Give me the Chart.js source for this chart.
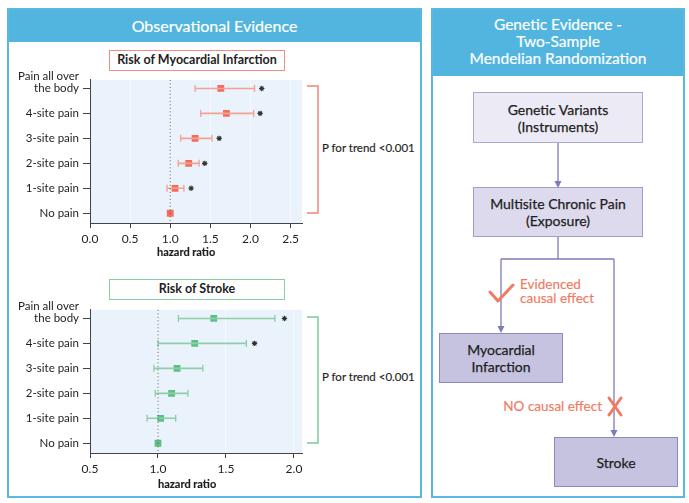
<!DOCTYPE html>
<html>
<head>
<meta charset="utf-8">
<script src="https://cdn.jsdelivr.net/npm/chart.js@4.4.1/dist/chart.umd.min.js"></script>
<style>
  body { margin: 0; width: 689px; height: 503px; position: relative; overflow: hidden;
         background: #fff; font-family: Lato, "Noto Sans", sans-serif; color: #1e1e1e; }
  .panel { position: absolute; border: 2px solid #5bb8e0; box-sizing: border-box; }
  .head { position: absolute; left: 0; right: 0; top: 0; background: #52b5e0; color: #fff;
          text-align: center; font-size: 16px; -webkit-text-stroke: 0.2px #fff; }
  .t { position: absolute; white-space: nowrap; -webkit-text-stroke: 0.15px currentColor; }
  .titlebox { position: absolute; box-sizing: border-box; height: 21px; width: 176px; left: 109px;
              text-align: center; font-weight: bold; font-size: 12.5px; line-height: 18px; background: #fff; }
  .box { position: absolute; box-sizing: border-box; display: flex; align-items: center;
         justify-content: center; text-align: center; font-size: 14px; line-height: 17px; color: #1e1e1e;
         -webkit-text-stroke: 0.25px #1e1e1e; }
  canvas { position: absolute; }
  svg { position: absolute; left: 0; top: 0; }
</style>
</head>
<body>

<div class="panel" style="left:7px;top:8px;width:415px;height:490px;">
  <div class="head" style="height:32px;line-height:31px;">Observational Evidence</div>
</div>
<div class="panel" style="left:431px;top:8px;width:254px;height:490px;">
  <div class="head" style="height:66px;font-size:15.5px;line-height:17px;padding-top:6px;box-sizing:border-box;">Genetic Evidence -<br>Two-Sample<br>Mendelian Randomization</div>
</div>

<div class="titlebox" style="top:50px;border:1.5px solid #ef8f7f;">Risk of Myocardial Infarction</div>
<div class="titlebox" style="top:279px;border:1.5px solid #86cfa0;">Risk of Stroke</div>

<canvas id="miChart" width="310" height="195" style="left:0;top:70px;"></canvas>
<canvas id="strokeChart" width="310" height="195" style="left:0;top:300px;"></canvas>

<div class="t" style="left:157px;top:245px;font-size:11px;font-weight:bold;">hazard ratio</div>
<div class="t" style="left:158px;top:477px;font-size:11px;font-weight:bold;">hazard ratio</div>

<div class="t" style="left:322px;top:141px;font-size:11.5px;">P for trend &lt;0.001</div>
<div class="t" style="left:322px;top:370px;font-size:11.5px;">P for trend &lt;0.001</div>

<div class="box" style="left:473px;top:92px;width:170px;height:51px;background:#ecebf5;border:1.5px solid #aaa7d0;">Genetic Variants<br>(Instruments)</div>
<div class="box" style="left:473px;top:187px;width:170px;height:50px;background:#dcdaec;border:1.5px solid #a09dcc;">Multisite Chronic Pain<br>(Exposure)</div>
<div class="box" style="left:439px;top:333px;width:124px;height:50px;background:#c6c3e0;border:1.5px solid #8d89bf;">Myocardial<br>Infarction</div>
<div class="box" style="left:554px;top:437px;width:124px;height:50px;background:#c6c3e0;border:1.5px solid #8d89bf;">Stroke</div>

<div class="t" style="left:520px;top:277px;font-size:13.5px;line-height:14px;color:#f07a62;">Evidenced<br>causal effect</div>
<div class="t" style="right:87px;top:398px;font-size:13.5px;color:#f07a62;">NO causal effect</div>

<svg width="689" height="503">
  <g fill="none" stroke-width="1.5">
    <path d="M307 86 H318 V213 H307" stroke="#f0867a"/>
    <path d="M307 317 H318 V443 H307" stroke="#7fcb9a"/>
  </g>
  <g fill="none" stroke="#7f7bb9" stroke-width="1.3">
    <path d="M558 143 V182"/>
    <path d="M558 237 V259 M501 259 H614 M501 259 V327 M614 259 V431"/>
  </g>
  <g fill="#7f7bb9">
    <polygon points="554.5,181 561.5,181 558,188"/>
    <polygon points="497.5,326 504.5,326 501,333"/>
    <polygon points="610.5,430 617.5,430 614,437"/>
  </g>
  <g fill="none" stroke="#f07a62" stroke-width="3" stroke-linecap="round" stroke-linejoin="round">
    <polyline points="490,292 498,301 513,285"/>
    <path d="M609 398 L621 415 M621 398 L609 415"/>
  </g>
</svg>

<script>
// rows, top to bottom
const categories = [['Pain all over', 'the body', ''], '4-site pain', '3-site pain', '2-site pain', '1-site pain', 'No pain'];

// Myocardial infarction: hazard ratio, 95% CI, star position
const miHR    = [1.63, 1.70, 1.31, 1.23, 1.06, 1.00];
const miLow   = [1.31, 1.38, 1.13, 1.10, 0.96, null];
const miHigh  = [2.05, 2.04, 1.52, 1.36, 1.17, null];
const miStar  = [2.14, 2.12, 1.61, 1.43, 1.26, null];
const miTicks = [0, 0.5, 1.0, 1.5, 2.0, 2.5];

// Stroke
const strokeHR    = [1.41, 1.27, 1.14, 1.10, 1.02, 1.00];
const strokeLow   = [1.15, 1.00, 0.97, 0.98, 0.92, null];
const strokeHigh  = [1.86, 1.65, 1.33, 1.22, 1.13, null];
const strokeStar  = [1.93, 1.71, null, null, null, null];
const strokeTicks = [0.5, 1.0, 1.5, 2.0];

const bgPlugin = {
  id: 'plotBg',
  beforeDraw(chart) {
    const a = chart.chartArea, ctx = chart.ctx;
    ctx.save();
    ctx.fillStyle = '#eaf2fb';
    ctx.fillRect(a.left, a.top, a.right - a.left, a.bottom - a.top);
    ctx.restore();
  }
};

function pts(xs) {
  return xs.map((x, i) => ({ x: x, y: i })).filter(p => p.x !== null);
}

function forest(id, hr, low, high, star, ticks, xMin, xMax, main, light) {
  const whisker = [];
  low.forEach((l, i) => {
    if (l === null) return;
    whisker.push({ x: l, y: i }, { x: high[i], y: i }, { x: null, y: null });
  });
  const yMin = -0.344, yMax = 5.39;

  new Chart(document.getElementById(id), {
    type: 'scatter',
    data: {
      datasets: [
        { type: 'line', data: [{ x: 1, y: yMin }, { x: 1, y: yMax }], borderColor: '#555',
          borderWidth: 1, borderDash: [1, 2.5], pointRadius: 0 },
        { type: 'line', data: whisker, borderColor: light, borderWidth: 1.6, pointRadius: 0, spanGaps: false },
        { data: pts(low).concat(pts(high)), pointStyle: 'line', rotation: 90, radius: 3.5,
          borderColor: light, borderWidth: 1.3 },
        { data: pts(hr), pointStyle: 'rect', radius: 4.8, backgroundColor: main, borderWidth: 0 },
        { data: pts(star), pointStyle: 'star', radius: 2.7, borderColor: '#333', borderWidth: 1.1 }
      ]
    },
    options: {
      responsive: false,
      animation: false,
      events: [],
      layout: { padding: { left: 0, right: 8, top: 8, bottom: 0 } },
      plugins: { legend: { display: false }, tooltip: { enabled: false } },
      scales: {
        x: {
          type: 'linear', min: xMin, max: xMax,
          afterBuildTicks: s => { s.ticks = ticks.map(v => ({ value: v })); },
          afterFit: s => { s.height = 42; },
          ticks: { callback: v => v.toFixed(1), color: '#1e1e1e', padding: 4, autoSkip: false,
                   font: { family: 'Lato', size: 12 } },
          grid: { color: 'rgba(255,255,255,0.55)', tickColor: '#444', tickLength: 5 },
          border: { color: '#444', width: 1 }
        },
        y: {
          type: 'linear', min: yMin, max: yMax, reverse: true,
          afterBuildTicks: s => { s.ticks = categories.map((c, i) => ({ value: i })); },
          afterFit: s => { s.width = 90; },
          ticks: { callback: v => categories[v], color: '#1e1e1e', padding: 4, autoSkip: false,
                   font: { family: 'Lato', size: 11.5, lineHeight: '11.7px' } },
          grid: { drawOnChartArea: false, tickColor: '#444', tickLength: 7 },
          border: { color: '#444', width: 1 }
        }
      }
    },
    plugins: [bgPlugin]
  });
}

forest('miChart', miHR, miLow, miHigh, miStar, miTicks, 0, 2.642, '#f26d5b', '#f4a193');
forest('strokeChart', strokeHR, strokeLow, strokeHigh, strokeStar, strokeTicks, 0.5, 2.059, '#5dbf85', '#8dcfa7');
</script>
</body>
</html>
